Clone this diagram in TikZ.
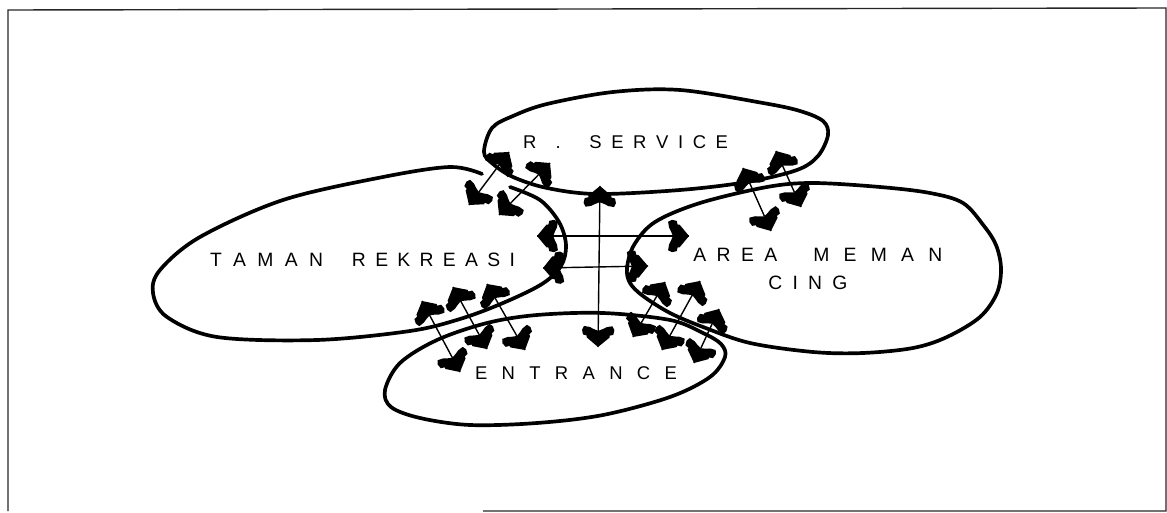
\documentclass[tikz,border=0pt]{standalone}
\usepackage{fontspec}
\setmainfont{Liberation Sans}
\usetikzlibrary{calc}
\tikzset{
  blob/.style={line width=2.1pt, line join=round, line cap=round},
  conn/.style={line width=0.8pt},
  framel/.style={line width=0.8pt, black!85},
  lbl/.style={inner sep=0pt, font=\fontsize{10.5}{12}\selectfont},
  ahd/.pic={\fill[black,scale=0.95] (0,0) -- (-10,12) -- (-12,12) -- (-13,16) -- (-18,17) -- (-22,15) -- (-21,9) -- (-19,5) -- (-17,0)
     -- (-19,-5) -- (-21,-9) -- (-22,-15) -- (-18,-17) -- (-13,-16) -- (-12,-12) -- (-10,-12) -- cycle;}
}
\newcommand\twoway[2]{%
  \draw[conn] (#1) -- (#2);
  \path let \p1=(#1), \p2=(#2), \n1={atan2(\y1-\y2,\x1-\x2)}, \n2={atan2(\y2-\y1,\x2-\x1)} in
    (#1) pic[rotate=\n1] {ahd} (#2) pic[rotate=\n2] {ahd};}
\begin{document}
\begin{tikzpicture}[x=0.02cm,y=-0.02cm]
\useasboundingbox (0,0) rectangle (1167,513);
% frame
\draw[framel] (483,511) -- (1166,511) -- (1166,8) -- (8,10) -- (8,511);
% R. SERVICE
\draw[blob] plot[smooth cycle, tension=0.55] coordinates {(484,152) (492,128) (513,116) (547,104) (613,92) (680,90) (763,103) (800,111) (823,121) (828,135) (818,156) (797,170) (747,182) (680,190) (597,194) (547,188) (513,177) (493,164)};
% TAMAN REKREASI (open where it meets R. SERVICE)
\draw[blob] plot[smooth, tension=0.55] coordinates {(510,187) (540,200) (559,222) (566,245) (561,266) (542,284) (503,303) (460,319) (410,331) (317,340) (217,337) (167,317) (153,293) (160,270) (200,237) (283,200) (383,177) (450,167) (482,174)};
% AREA MEMANCING
\draw[blob] plot[smooth cycle, tension=0.55] coordinates {(627,268) (634,245) (655,222) (700,203) (767,187) (813,183) (880,187) (930,193) (963,203) (984,226) (996,245) (1001,268) (997,293) (980,317) (947,337) (913,348) (863,353) (813,352) (750,343) (703,327) (670,313) (643,296) (630,283)};
% ENTRANCE
\draw[blob] plot[smooth cycle, tension=0.55] coordinates {(385,390) (391,407) (420,418) (470,425) (537,423) (603,415) (670,397) (710,377) (725,357) (721,344) (703,333) (670,320) (603,313) (537,315) (487,323) (437,340) (400,363)};
% labels
\node[lbl] (rs) at (625.5,142) {\makebox[4.1cm]{R\hfill\hfill .\hfill\hfill\hfill S\hfill E\hfill R\hfill V\hfill I\hfill C\hfill E}};
\node[lbl, font=\fontsize{11}{13}\selectfont] (tr) at (362.5,260) {\makebox[2.26cm]{T\hfill A\hfill M\hfill A\hfill N}\hspace{0.58cm}\makebox[3.26cm]{R\hfill E\hfill K\hfill R\hfill E\hfill A\hfill S\hfill I}};
\node[lbl, font=\fontsize{11}{15.9}\selectfont, anchor=north west, align=left] (am) at (693,248) {\makebox[1.68cm]{A\hfill R\hfill E\hfill A}\hspace{0.72cm}\makebox[2.58cm]{M\hfill E\hfill M\hfill A\hfill N}\\\hspace*{1.5cm}\makebox[1.58cm]{C\hfill I\hfill N\hfill G}};
\node[lbl] (en) at (576,373) {\makebox[4.04cm]{E\hfill N\hfill T\hfill R\hfill A\hfill N\hfill C\hfill E}};
% arrow end points
\coordinate (vt) at (600,186); \coordinate (vb) at (598,347);
\coordinate (hul) at (537,236); \coordinate (hur) at (689,236);
\coordinate (hll) at (543,268); \coordinate (hlr) at (648,266);
\coordinate (a1t) at (509,152); \coordinate (a1b) at (469,205);
\coordinate (a2t) at (550,163); \coordinate (a2b) at (499,215);
\coordinate (b1t) at (743,168); \coordinate (b1b) at (771,231);
\coordinate (b2t) at (776,151); \coordinate (b2b) at (801,207);
\coordinate (c1t) at (422,301); \coordinate (c1b) at (460,372);
\coordinate (c2t) at (453,287); \coordinate (c2b) at (487,349);
\coordinate (c3t) at (487,284); \coordinate (c3b) at (525,350);
\coordinate (d1t) at (665,282); \coordinate (d1b) at (633,337);
\coordinate (d2t) at (700,281); \coordinate (d2b) at (662,350);
\coordinate (d3t) at (719,309); \coordinate (d3b) at (694,363);
% connectors
\twoway{vt}{vb}
\twoway{hul}{hur}
\twoway{hll}{hlr}
\twoway{a1t}{a1b}
\twoway{a2t}{a2b}
\twoway{b1t}{b1b}
\twoway{b2t}{b2b}
\twoway{c1t}{c1b}
\twoway{c2t}{c2b}
\twoway{c3t}{c3b}
\twoway{d1t}{d1b}
\twoway{d2t}{d2b}
\twoway{d3t}{d3b}
\end{tikzpicture}
\end{document}
